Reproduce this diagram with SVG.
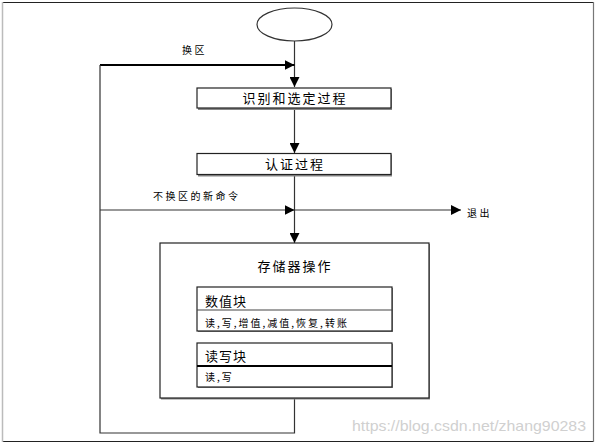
<svg xmlns="http://www.w3.org/2000/svg" width="596" height="445" viewBox="0 0 596 445">
  <defs>
    <marker id="arr" viewBox="0 0 10 10" refX="10" refY="5" markerWidth="10" markerHeight="10" markerUnits="userSpaceOnUse" orient="auto">
      <path d="M0,0 L10,5 L0,10 Z" fill="#000"/>
    </marker>
    <style>
      .ln { fill: none; stroke: #333; stroke-width: 1.2; }
      .box { fill: #fff; stroke: #222; stroke-width: 1.2; }
      .shadow { fill: #888; }
      .t { font-family: "Noto Sans CJK SC", "DejaVu Sans", sans-serif; fill: #000; }
      .big { font-size: 13px; letter-spacing: 2px; }
      .small { font-size: 10px; letter-spacing: 2.5px; }
    </style>
  </defs>
  <rect width="596" height="445" fill="#fff"/>
  <!-- frame -->
  <g id="frame">
    <line x1="2" y1="2.5" x2="594" y2="2.5" stroke="#222" stroke-width="1.2"/>
    <line x1="2" y1="441.5" x2="594" y2="441.5" stroke="#222" stroke-width="1.2"/>
    <line x1="2.5" y1="2" x2="2.5" y2="442" stroke="#bbb" stroke-width="1.5"/>
    <line x1="593.5" y1="2" x2="593.5" y2="442" stroke="#777" stroke-width="1.2"/>
  </g>

  <g id="connectors">
    <path class="ln" d="M294.5,41 V87" marker-end="url(#arr)"/>
    <path d="M100,65 H294.5" fill="none" stroke="#000" stroke-width="2" marker-end="url(#arr)"/>
    <path class="ln" d="M294.5,108 V153" marker-end="url(#arr)"/>
    <path class="ln" d="M294.5,175 V243" marker-end="url(#arr)"/>
    <path class="ln" d="M100,210 H294.5" marker-end="url(#arr)"/>
    <path class="ln" d="M294.5,210 H461" marker-end="url(#arr)"/>
    <path class="ln" d="M294.5,398 V433 H100 V65"/>
  </g>

  <g id="start">
    <ellipse cx="294.5" cy="24.5" rx="37.5" ry="16.5" fill="#fff" stroke="#333" stroke-width="1.2"/>
  </g>

  <g id="label-huanqu">
    <text class="t small" x="182" y="54">换区</text>
  </g>

  <g id="identify">
    <rect class="shadow" x="198" y="89" width="194" height="21"/>
    <rect class="box" x="197" y="88" width="194" height="20"/>
    <text class="t big" x="295" y="103" text-anchor="middle">识别和选定过程</text>
  </g>

  <g id="auth">
    <rect class="shadow" x="198" y="154.5" width="194" height="22"/>
    <rect class="box" x="197" y="153.5" width="194" height="21"/>
    <text class="t big" x="295" y="169" text-anchor="middle">认证过程</text>
  </g>

  <g id="label-newcmd">
    <text class="t small" x="153" y="200">不换区的新命令</text>
  </g>

  <g id="exit">
    <text class="t small" x="467" y="217">退出</text>
  </g>

  <g id="memory">
    <rect class="shadow" x="161" y="244" width="269" height="155.5"/>
    <rect class="box" x="160" y="243" width="269" height="155"/>
    <text class="t big" x="295" y="271" text-anchor="middle">存储器操作</text>
  </g>

  <g id="value-block">
    <rect class="shadow" x="198" y="288" width="195" height="44"/>
    <rect class="box" x="197" y="287" width="195" height="44"/>
    <line x1="197" y1="310" x2="392" y2="310" stroke="#444" stroke-width="1.2"/>
    <text class="t" font-size="13" letter-spacing="1" x="205" y="306">数值块</text>
    <text class="t" font-size="10" letter-spacing="2" x="205" y="327">读,写,增值,减值,恢复,转账</text>
  </g>

  <g id="rw-block">
    <rect class="shadow" x="198" y="344" width="195" height="44"/>
    <rect class="box" x="197" y="343" width="195" height="44"/>
    <line x1="197" y1="366" x2="392" y2="366" stroke="#000" stroke-width="2"/>
    <text class="t" font-size="13" letter-spacing="1" x="205" y="361">读写块</text>
    <text class="t" font-size="10" letter-spacing="2" x="205" y="381">读,写</text>
  </g>

  <text x="352" y="431" font-family="Liberation Sans, Arial, sans-serif" font-size="15" fill="#d0d0d0" textLength="234" lengthAdjust="spacingAndGlyphs">https://blog.csdn.net/zhang90283</text>
</svg>
